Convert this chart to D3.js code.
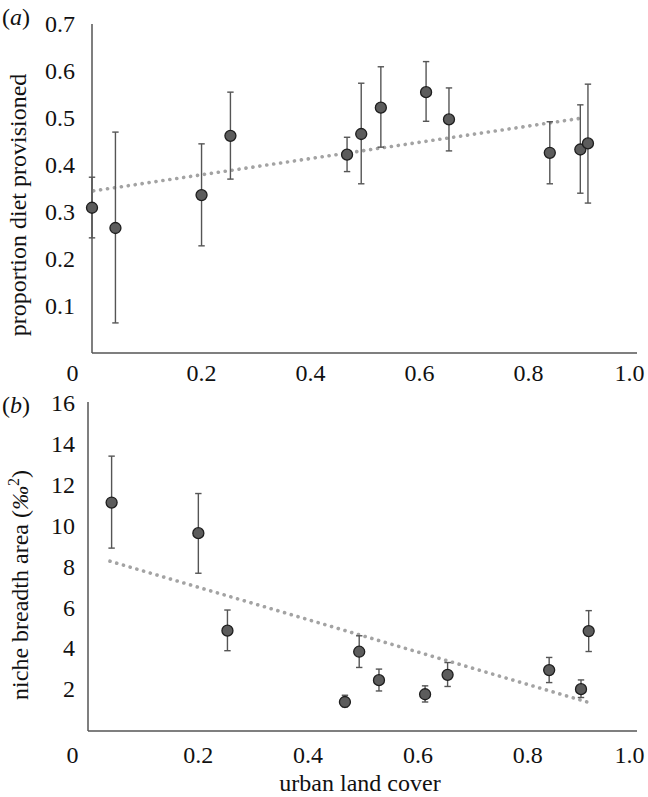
<!DOCTYPE html>
<html>
<head>
<meta charset="utf-8">
<script src="https://cdn.jsdelivr.net/npm/d3@7"></script>
<style>
  body { margin: 0; background: #fff; }
  svg { display: block; }
  text { font-family: "Liberation Serif", "Times New Roman", serif; fill: #111; }
</style>
</head>
<body>
<svg id="chart" width="648" height="797"></svg>
<script>
// ---- Data ----
// Panel (a): proportion of diet provisioned vs urban land cover
const urbanA = [0.0, 0.043, 0.201, 0.254, 0.468, 0.494, 0.530, 0.613, 0.655, 0.840, 0.896, 0.910];
const provMean = [0.309, 0.266, 0.336, 0.462, 0.422, 0.466, 0.522, 0.555, 0.497, 0.426, 0.433, 0.446];
const provLow  = [0.245, 0.064, 0.228, 0.370, 0.386, 0.360, 0.438, 0.493, 0.430, 0.360, 0.340, 0.319];
const provHigh = [0.374, 0.470, 0.445, 0.555, 0.459, 0.574, 0.609, 0.620, 0.564, 0.492, 0.528, 0.572];
const trendAx = [0.003, 0.90];
const trendAy = [0.345, 0.500];
const yTicksA = [0.1, 0.2, 0.3, 0.4, 0.5, 0.6, 0.7];

// Panel (b): niche breadth area vs urban land cover
const urbanB = [0.043, 0.201, 0.254, 0.468, 0.494, 0.530, 0.614, 0.655, 0.840, 0.898, 0.912];
const nicheMean = [11.13, 9.63, 4.86, 1.37, 3.83, 2.44, 1.75, 2.70, 2.93, 2.00, 4.84];
const nicheLow  = [8.90, 7.67, 3.88, 1.13, 3.06, 1.91, 1.37, 2.13, 2.32, 1.59, 3.84];
const nicheHigh = [13.40, 11.57, 5.87, 1.70, 4.61, 2.98, 2.16, 3.30, 3.55, 2.45, 5.84];
const trendBx = [0.040, 0.913];
const trendBy = [8.26, 1.34];
const yTicksB = [2, 4, 6, 8, 10, 12, 14, 16];

const xTicks = [0, 0.2, 0.4, 0.6, 0.8, 1.0];

// ---- Drawing ----
const svg = d3.select("#chart");
const FS = 24;

function panel(opts) {
  const g = svg.append("g");
  const x = d3.scaleLinear().domain([0, 1]).range(opts.xRange);
  const y = d3.scaleLinear().domain(opts.yDomain).range(opts.yRange);

  // y tick labels
  const ya = d3.axisLeft(y).tickValues(opts.yTicks).tickSize(0).tickPadding(opts.yPad)
    .tickFormat(opts.yFmt);
  const gy = g.append("g").attr("transform", `translate(${opts.xRange[0]},0)`).call(ya);
  gy.select(".domain").remove();
  gy.selectAll("text").style("font-family", "Liberation Serif, serif").style("font-size", FS + "px").attr("fill", "#111");

  // x tick labels
  const xa = d3.axisBottom(x).tickValues(xTicks).tickSize(0).tickPadding(0)
    .tickFormat(d => d === 0 ? "0" : d3.format(".1f")(d));
  const gx = g.append("g").attr("transform", `translate(0,${opts.xAxisY})`).call(xa);
  gx.select(".domain").remove();
  gx.selectAll("text")
    .style("font-family", "Liberation Serif, serif").style("font-size", FS + "px").attr("fill", "#111")
    .attr("y", opts.xLabelOff).attr("dy", "0.35em")
    .attr("dx", d => d === 0 ? opts.zeroDx : (d === 1 ? -8 : 0));

  // axis lines
  g.append("line").attr("x1", opts.xRange[0]).attr("x2", opts.xRange[0])
    .attr("y1", opts.axisTop).attr("y2", opts.xAxisY)
    .attr("stroke", "#555").attr("stroke-width", 1.5);
  g.append("line").attr("x1", opts.xRange[0]).attr("x2", opts.xRange[1])
    .attr("y1", opts.xAxisY).attr("y2", opts.xAxisY)
    .attr("stroke", "#555").attr("stroke-width", 1.5);

  // trend line
  g.append("line")
    .attr("x1", x(opts.tx[0])).attr("x2", x(opts.tx[1]))
    .attr("y1", y(opts.ty[0])).attr("y2", y(opts.ty[1]))
    .attr("stroke", "#a3a3a3").attr("stroke-width", 3.6)
    .attr("stroke-linecap", "round").attr("stroke-dasharray", "0.1 6.9");

  // error bars
  const cap = 3.2;
  const eb = g.append("g").attr("stroke", "#555").attr("stroke-width", 1.4);
  opts.xs.forEach((xv, i) => {
    const cx = x(xv);
    eb.append("line").attr("x1", cx).attr("x2", cx).attr("y1", y(opts.lo[i])).attr("y2", y(opts.hi[i]));
    eb.append("line").attr("x1", cx - cap).attr("x2", cx + cap).attr("y1", y(opts.lo[i])).attr("y2", y(opts.lo[i]));
    eb.append("line").attr("x1", cx - cap).attr("x2", cx + cap).attr("y1", y(opts.hi[i])).attr("y2", y(opts.hi[i]));
  });

  // points
  g.append("g").selectAll("circle").data(opts.xs).join("circle")
    .attr("cx", d => x(d)).attr("cy", (d, i) => y(opts.mean[i]))
    .attr("r", 5.5).attr("fill", "#5c5c5c").attr("stroke", "#1e1e1e").attr("stroke-width", 1.3);

  // panel label
  const pl = g.append("text").attr("x", 2).attr("y", opts.labelY).attr("dy", "0.35em")
    .style("font-size", FS + "px");
  pl.append("tspan").text("(");
  pl.append("tspan").attr("font-style", "italic").text(opts.letter);
  pl.append("tspan").text(")");

  return g;
}

const gA = panel({
  xRange: [92, 637], yDomain: [0, 0.7], yRange: [353, 24],
  yTicks: yTicksA, yFmt: d3.format(".1f"), yPad: 17,
  xAxisY: 353, axisTop: 24, xLabelOff: 20, zeroDx: -20,
  xs: urbanA, mean: provMean, lo: provLow, hi: provHigh,
  tx: trendAx, ty: trendAy, letter: "a", labelY: 17
});
gA.append("text")
  .attr("transform", "translate(18,205) rotate(-90)")
  .attr("text-anchor", "middle").attr("dy", "0.35em")
  .style("font-size", FS + "px")
  .text("proportion diet provisioned");

const gB = panel({
  xRange: [88, 637], yDomain: [0, 16], yRange: [730, 403],
  yTicks: yTicksB, yFmt: d3.format("d"), yPad: 13,
  xAxisY: 731, axisTop: 402, xLabelOff: 24, zeroDx: -16,
  xs: urbanB, mean: nicheMean, lo: nicheLow, hi: nicheHigh,
  tx: trendBx, ty: trendBy, letter: "b", labelY: 405
});
const yt = gB.append("text")
  .attr("transform", "translate(20,585) rotate(-90)")
  .attr("text-anchor", "middle").attr("dy", "0.35em")
  .style("font-size", FS + "px");
yt.append("tspan").text("niche breadth area (");
yt.append("tspan").attr("font-style", "italic").text("‰");
yt.append("tspan").attr("font-size", "16px").attr("dy", "-9").text("2");
yt.append("tspan").attr("dy", "9").text(")");

gB.append("text")
  .attr("x", 360).attr("y", 783).attr("dy", "0.35em")
  .attr("text-anchor", "middle")
  .style("font-size", FS + "px")
  .text("urban land cover");
</script>
</body>
</html>
